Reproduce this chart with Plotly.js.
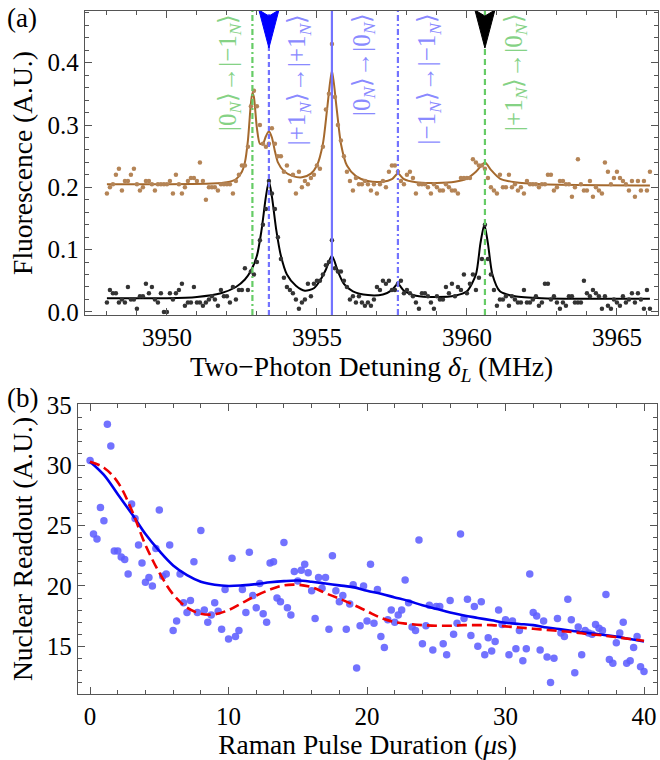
<!DOCTYPE html>
<html>
<head>
<meta charset="utf-8">
<script src="https://cdn.plot.ly/plotly-3.0.1.min.js"></script>
<style>html,body{margin:0;padding:0;background:#fff;}#chart{width:660px;height:760px;}</style>
</head>
<body>
<div id="chart"></div>
<script>
// ---------- Panel (a): fluorescence vs two-photon detuning ----------
const detuneStart = 3948.0;   // MHz, first sample
const detuneStep = 0.1;       // MHz between samples

// brown (upper) data series, 0.1 MHz steps from 3948.0
const brownY = [
  0.19, 0.20, 0.205, 0.22, 0.23, 0.195, 0.21, 0.21, 0.22, 0.23,
  0.205, 0.195, 0.20, 0.21, 0.21, 0.205, 0.195, 0.205, 0.205, 0.205,
  0.205, 0.21, 0.19, 0.22, 0.205, 0.19, 0.20, 0.21, 0.215, 0.215,
  0.21, 0.24, 0.21, 0.18, 0.20, 0.20, 0.20, 0.195, 0.205, 0.205,
  0.205, 0.205, 0.19, 0.21, 0.22, 0.235, 0.235, 0.265, 0.33, 0.355,
  0.33, 0.30, 0.27, 0.265, 0.27, 0.295, 0.27, 0.25, 0.25, 0.225,
  0.235, 0.21, 0.22, 0.19, 0.225, 0.20, 0.21, 0.205, 0.215, 0.22,
  0.235, 0.23, 0.265, 0.325, 0.35, 0.43, 0.345, 0.30, 0.275, 0.25,
  0.225, 0.21, 0.195, 0.215, 0.205, 0.205, 0.21, 0.205, 0.195, 0.205,
  0.19, 0.205, 0.21, 0.20, 0.225, 0.235, 0.235, 0.225, 0.21, 0.205,
  0.22, 0.225, 0.215, 0.19, 0.205, 0.205, 0.205, 0.20, 0.19, 0.205,
  0.20, 0.195, 0.195, 0.205, 0.20, 0.195, 0.195, 0.19, 0.215, 0.215,
  0.215, 0.215, 0.245, 0.24, 0.235, 0.235, 0.23, 0.215, 0.20, 0.195,
  0.19, 0.22, 0.20, 0.20, 0.22, 0.20, 0.205, 0.195, 0.20, 0.19,
  0.21, 0.205, 0.205, 0.205, 0.20, 0.205, 0.205, 0.22, 0.22, 0.195,
  0.20, 0.21, 0.21, 0.205, 0.205, 0.185, 0.20, 0.245, 0.205, 0.195,
  0.195, 0.21, 0.185, 0.20, 0.195, 0.19, 0.24, 0.225, 0.205, 0.215,
  0.225, 0.215, 0.21, 0.205, 0.195, 0.21, 0.185, 0.21, 0.195, 0.21,
  0.195, 0.225
];

// black (lower) data series, same detuning grid
const blackY = [
  0.015, 0.035, 0.03, 0.03, 0.015, 0.02, 0.015, 0.04, 0.02, 0.02,
  0.005, 0.025, 0.025, 0.045, 0.03, 0.04, 0.02, 0.015, 0.03, 0.0,
  0.0, 0.03, 0.02, 0.03, 0.035, 0.045, 0.01, 0.015, 0.015, 0.04,
  0.015, 0.015, 0.01, 0.015, 0.02, 0.025, 0.02, 0.01, 0.035, 0.025,
  0.025, 0.015, 0.04, 0.02, 0.035, 0.035, 0.07, 0.035, 0.065, 0.06,
  0.08, 0.115, 0.14, 0.165, 0.21, 0.19, 0.165, 0.12, 0.085, 0.055,
  0.04, 0.035, 0.03, 0.02, 0.005, 0.015, 0.02, 0.045, 0.025, 0.045,
  0.05, 0.05, 0.06, 0.075, 0.08, 0.115, 0.07, 0.065, 0.065, 0.05,
  0.04, 0.02, 0.025, 0.015, 0.025, 0.015, 0.01, 0.015, 0.01, 0.02,
  0.04, 0.035, 0.05, 0.045, 0.05, 0.035, 0.035, 0.045, 0.05, 0.03,
  0.035, 0.03, 0.025, 0.015, 0.005, 0.03, 0.03, 0.025, 0.015, 0.005,
  0.025, 0.02, 0.02, 0.04, 0.03, 0.045, 0.025, 0.04, 0.035, 0.06,
  0.03, 0.045, 0.06, 0.035, 0.055, 0.085, 0.14, 0.085, 0.06, 0.035,
  0.01, 0.02, 0.02, 0.025, 0.01, 0.025, 0.02, 0.015, 0.015, 0.035,
  0.015, 0.015, 0.02, 0.025, 0.01, 0.015, 0.045, 0.045, 0.02, 0.025,
  0.015, 0.005, 0.015, 0.01, 0.025, 0.025, 0.015, 0.015, 0.015, 0.05,
  0.03, 0.025, 0.035, 0.03, 0.025, 0.005, 0.025, 0.01, 0.005, 0.02,
  0.015, 0.01, 0.025, 0.015, 0.02, 0.03, 0.015, 0.03, 0.02, 0.005,
  0.035, 0.005
];

// fitted curves
const brownFitX = [3948.0, 3950.0, 3951.5, 3952.0, 3952.3, 3952.5, 3952.6, 3952.7, 3952.8, 3952.85, 3952.9, 3953.0, 3953.1, 3953.2, 3953.3, 3953.4, 3953.5, 3953.6, 3953.7, 3953.9, 3954.2, 3954.5, 3954.8, 3955.0, 3955.2, 3955.35, 3955.5, 3955.65, 3955.8, 3956.0, 3956.3, 3956.7, 3957.2, 3957.5, 3957.7, 3957.9, 3958.3, 3959.0, 3959.6, 3960.0, 3960.3, 3960.6, 3960.8, 3961.1, 3961.6, 3962.5, 3966.1];
const brownFitY = [0.205, 0.205, 0.206, 0.208, 0.213, 0.225, 0.24, 0.275, 0.335, 0.352, 0.345, 0.295, 0.27, 0.27, 0.282, 0.29, 0.28, 0.258, 0.24, 0.226, 0.218, 0.216, 0.222, 0.235, 0.27, 0.33, 0.388, 0.33, 0.27, 0.235, 0.218, 0.21, 0.209, 0.213, 0.222, 0.213, 0.208, 0.207, 0.209, 0.214, 0.225, 0.24, 0.228, 0.214, 0.208, 0.205, 0.203];
const blackFitX = [3948.0, 3950.0, 3951.0, 3951.8, 3952.3, 3952.6, 3952.8, 3953.0, 3953.15, 3953.3, 3953.4, 3953.5, 3953.65, 3953.8, 3954.0, 3954.3, 3954.6, 3954.9, 3955.1, 3955.3, 3955.5, 3955.7, 3955.9, 3956.2, 3956.7, 3957.2, 3957.5, 3957.7, 3957.9, 3958.3, 3959.0, 3959.6, 3960.0, 3960.3, 3960.45, 3960.58, 3960.7, 3960.85, 3961.1, 3961.6, 3962.5, 3966.1];
const blackFitY = [0.022, 0.022, 0.024, 0.03, 0.04, 0.052, 0.066, 0.09, 0.13, 0.185, 0.21, 0.185, 0.13, 0.09, 0.06, 0.042, 0.034, 0.038, 0.05, 0.068, 0.09, 0.065, 0.045, 0.033, 0.027, 0.028, 0.035, 0.045, 0.034, 0.026, 0.024, 0.026, 0.033, 0.06, 0.11, 0.14, 0.11, 0.06, 0.033, 0.025, 0.022, 0.021];

// transitions: marker line positions and labels
const transX = [3952.85, 3953.4, 3955.5, 3957.7, 3960.6];
const transLabels = [
  "|0<sub><i>N</i></sub>⟩→|−1<sub><i>N</i></sub>⟩",
  "|+1<sub><i>N</i></sub>⟩→|+1<sub><i>N</i></sub>⟩",
  "|0<sub><i>N</i></sub>⟩→|0<sub><i>N</i></sub>⟩",
  "|−1<sub><i>N</i></sub>⟩→|−1<sub><i>N</i></sub>⟩",
  "|+1<sub><i>N</i></sub>⟩→|0<sub><i>N</i></sub>⟩"
];
const transLabelX = [3952.07, 3954.38, 3956.55, 3958.72, 3961.6];

// ---------- Panel (b): nuclear readout vs Raman pulse duration ----------
const pulseStart = 0;     // µs
const pulseStep = 0.25;   // µs
const readout = [
  30.4, 24.3, 23.9, 26.5, 25.4, 33.4, 31.6, 22.9,
  22.9, 22.4, 22.2, 21.0, 26.8, 25.6, 23.4, 21.9,
  20.3, 20.7, 20.0, 23.1, 26.3, 20.8, 21.0, 23.4,
  16.3, 17.1, 21.0, 18.6, 17.8, 18.8, 22.0, 17.8,
  24.6, 18.0, 17.0, 17.6, 18.6, 17.9, 16.4, 19.7,
  15.6, 22.3, 15.8, 16.3, 19.7, 17.8, 22.8, 19.2,
  18.2, 20.2, 17.7, 17.0, 21.9, 22.0, 19.0, 18.7,
  23.6, 18.2, 17.6, 21.2, 20.4, 21.3, 21.8, 21.1,
  19.6, 17.3, 20.7, 19.8, 20.7, 16.4, 22.5, 19.6,
  18.7, 19.2, 16.4, 18.5, 20.1, 13.2, 16.7, 20.0,
  17.1, 21.8, 16.9, 19.7, 15.8, 14.9, 17.2, 18.0,
  17.0, 17.6, 18.0, 20.5, 18.6, 16.6, 16.3, 23.8,
  15.2, 16.7, 18.4, 14.7, 18.3, 18.3, 15.2, 14.3,
  18.8, 16.0, 16.9, 24.3, 17.3, 18.9, 15.9, 18.3,
  15.0, 18.7, 14.3, 15.7, 14.6, 15.4, 18.0, 16.8,
  17.2, 14.3, 17.1, 14.8, 16.3, 13.8, 14.8, 21.0,
  17.8, 17.5, 14.7, 17.1, 14.1, 12.0, 14.0, 17.3,
  16.1, 15.8, 18.9, 17.2, 12.8, 16.6, 14.3, 16.3,
  16.1, 16.0, 16.8, 16.5, 16.3, 19.3, 13.9, 13.6,
  15.3, 16.1, 17.0, 13.6, 13.8, 14.9, 15.8, 13.3,
  12.9
];
const fitT = [0, 1, 2, 3, 4, 5, 6, 7, 8, 9, 10, 11, 12, 13, 14, 15, 16, 17, 18, 19, 20, 21, 22, 23, 24, 25, 26, 27, 28, 29, 30, 31, 32, 33, 34, 35, 36, 37, 38, 39, 40];
const fitBlue = [30.3, 29.2, 27.6, 26.0, 24.3, 22.9, 21.7, 20.9, 20.35, 20.1, 20.0, 20.05, 20.15, 20.3, 20.4, 20.45, 20.35, 20.2, 20.05, 19.9, 19.6, 19.35, 19.05, 18.75, 18.4, 18.1, 17.8, 17.55, 17.35, 17.15, 16.95, 16.85, 16.75, 16.55, 16.4, 16.25, 16.1, 15.95, 15.8, 15.6, 15.4];
const fitRed = [30.3, 29.8, 28.6, 26.3, 23.4, 21.1, 19.3, 18.2, 17.7, 17.65, 18.0, 18.6, 19.2, 19.7, 20.05, 20.1, 19.9, 19.4, 18.95, 18.45, 17.9, 17.35, 17.0, 16.85, 16.75, 16.7, 16.7, 16.75, 16.75, 16.75, 16.65, 16.55, 16.45, 16.35, 16.25, 16.15, 16.0, 15.9, 15.75, 15.6, 15.45];

// ---------- styling ----------
const SERIF = "Liberation Serif";
const frameColor = "#555555";
const greenLine = "#66cc66";
const blueLine = "#7373ff";
const greenText = "#85d285";
const blueText = "#8a8aff";

const topY = [-0.005, 0.483];

function frameAxis(extra) {
  return Object.assign({
    showline: true, linecolor: frameColor, linewidth: 1.3, mirror: "allticks",
    ticks: "inside", ticklen: 7, tickwidth: 1.2, tickcolor: frameColor,
    showgrid: false, zeroline: false, automargin: false,
    tickfont: {family: SERIF, size: 25, color: "#000"},
  }, extra);
}
const titleFont = {family: SERIF, size: 27.5, color: "#000"};

const traces = [
  {x: brownFitX, y: brownFitY, xaxis: "x", yaxis: "y", mode: "lines",
   line: {color: "rgb(165,105,45)", width: 2, shape: "spline", smoothing: 0.7}, hoverinfo: "skip"},
  {y: brownY, x0: detuneStart, dx: detuneStep, xaxis: "x", yaxis: "y", mode: "markers",
   marker: {color: "rgb(180,132,86)", size: 4.5}},
  {x: blackFitX, y: blackFitY, xaxis: "x", yaxis: "y", mode: "lines",
   line: {color: "#000", width: 2, shape: "spline", smoothing: 0.7}, hoverinfo: "skip"},
  {y: blackY, x0: detuneStart, dx: detuneStep, xaxis: "x", yaxis: "y", mode: "markers",
   marker: {color: "#333", size: 4.5}},
  {y: readout, x0: pulseStart, dx: pulseStep, xaxis: "x2", yaxis: "y2", mode: "markers",
   marker: {color: "rgba(95,95,255,0.88)", size: 7.5}},
  {x: fitT, y: fitBlue, xaxis: "x2", yaxis: "y2", mode: "lines",
   line: {color: "#0000ee", width: 2.6, shape: "spline"}},
  {x: fitT, y: fitRed, xaxis: "x2", yaxis: "y2", mode: "lines",
   line: {color: "#ee0000", width: 2.6, dash: "10px,5px", shape: "spline"}}
];

const lineStyles = [
  {color: greenLine, dash: "6px,3px,2px,3px"},
  {color: blueLine, dash: "5px,3px"},
  {color: blueLine, dash: "solid"},
  {color: blueLine, dash: "6px,3px,2px,3px"},
  {color: greenLine, dash: "6px,4px"}
];
const labelColors = [greenText, blueText, blueText, blueText, greenText];

const shapes = transX.map((xv, i) => ({
  type: "line", xref: "x", yref: "y domain", x0: xv, x1: xv, y0: 0, y1: 1,
  line: {color: lineStyles[i].color, width: 2.2, dash: lineStyles[i].dash}, layer: "above"
}));
// arrow heads at the driven transitions
const arrowPath = "M-10,1 L0,-37 L10,1 L0,-5 Z";
[[1, "#0000ff"], [4, "#000000"]].forEach(([i, c]) => {
  shapes.push({type: "path", xref: "x", yref: "y", xsizemode: "pixel", ysizemode: "pixel",
    xanchor: transX[i], yanchor: topY[1], path: arrowPath,
    fillcolor: c, line: {color: c, width: 1}, layer: "above"});
});

const annotations = transLabels.map((t, i) => ({
  text: t, x: transLabelX[i], xref: "x", y: 1, yref: "y domain",
  xanchor: "center", yanchor: "top", yshift: 0, textangle: -90, showarrow: false,
  font: {family: SERIF, size: 25, color: labelColors[i]}
}));
annotations.push(
  {text: "(a)", xref: "paper", yref: "paper", x: 0.008, y: 0.999, xanchor: "left", yanchor: "top",
   showarrow: false, font: {family: SERIF, size: 27, color: "#000"}},
  {text: "(b)", xref: "paper", yref: "paper", x: 0.008, y: 0.499, xanchor: "left", yanchor: "top",
   showarrow: false, font: {family: SERIF, size: 27, color: "#000"}}
);

const layout = {
  width: 660, height: 760, autosize: false,
  margin: {l: 0, r: 0, t: 0, b: 0},
  paper_bgcolor: "#fff", plot_bgcolor: "#fff",
  showlegend: false,
  xaxis: frameAxis({
    domain: [0.1288, 0.997], anchor: "y", range: [3947.27, 3966.37],
    tick0: 3950, dtick: 5, minor: {dtick: 1, ticklen: 4, tickcolor: frameColor, ticks: "inside"},
    title: {text: "Two−Photon Detuning <i>δ</i><sub><i>L</i></sub> (MHz)", standoff: 5, font: titleFont}
  }),
  yaxis: frameAxis({
    domain: [0.5855, 0.9855], anchor: "x", range: topY,
    tick0: 0, dtick: 0.1, tickformat: ".1f",
    minor: {dtick: 0.02, ticklen: 4, tickcolor: frameColor, ticks: "inside"},
    title: {text: "Fluorescence (A.U.)\u2003\u2002", standoff: 6, font: titleFont}
  }),
  xaxis2: frameAxis({
    domain: [0.1182, 0.9955], anchor: "y2", range: [-0.87, 40.94],
    tick0: 0, dtick: 10, minor: {dtick: 2, ticklen: 4, tickcolor: frameColor, ticks: "inside"},
    title: {text: "Raman Pulse Duration (<i>μ</i>s)", standoff: 5, font: titleFont}
  }),
  yaxis2: frameAxis({
    domain: [0.0868, 0.4684], anchor: "x2", range: [11.04, 35.08],
    tick0: 15, dtick: 5, minor: {dtick: 1, ticklen: 4, tickcolor: frameColor, ticks: "inside"},
    title: {text: "Nuclear Readout (A.U.)\u2003\u2002", standoff: 6, font: titleFont}
  }),
  shapes: shapes,
  annotations: annotations
};

Plotly.newPlot("chart", traces, layout, {displayModeBar: false});
</script>
</body>
</html>
